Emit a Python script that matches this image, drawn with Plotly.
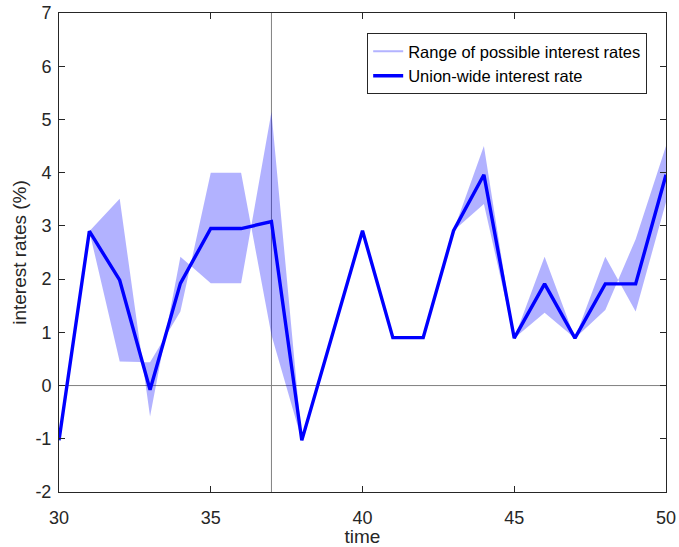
import plotly.graph_objects as go

# ---- data ----
time = list(range(30, 51))
union_rate = [-1.03, 2.90, 1.98, -0.08, 1.92, 2.95, 2.95, 3.08, -1.03, 0.94, 2.91,
              0.90, 0.90, 2.91, 3.96, 0.89, 1.91, 0.89, 1.91, 1.91, 3.96]
bound_a = [-1.03, 2.90, 3.51, -0.58, 2.42, 1.92, 1.92, 5.14, -1.03, 0.94, 2.91,
           0.90, 0.90, 2.91, 4.50, 0.89, 2.42, 0.89, 2.42, 1.39, 3.45]
bound_b = [-1.03, 2.90, 0.45, 0.44, 1.39, 4.00, 4.00, 0.95, -1.03, 0.94, 2.91,
           0.90, 0.90, 2.91, 3.41, 0.89, 1.37, 0.89, 1.42, 2.75, 4.50]
event_time = 37
x_ticks = [30, 35, 40, 45, 50]
y_ticks = list(range(-2, 8))

FONT = "Liberation Sans, Arial, Helvetica, sans-serif"
AX = "#262626"
BAND = "rgba(0,0,255,0.3)"

fig = go.Figure()

# band polygon (upper path then reversed lower path)
fig.add_trace(go.Scatter(
    x=time + time[::-1], y=bound_a + bound_b[::-1],
    mode="lines", fill="toself", fillcolor=BAND,
    line=dict(width=0, color=BAND), hoverinfo="skip", showlegend=False))
# legend proxy for the band
fig.add_trace(go.Scatter(
    x=[None], y=[None], mode="lines",
    line=dict(color="#b3b3ff", width=2),
    name="Range of possible interest rates"))
fig.add_trace(go.Scatter(
    x=time, y=union_rate, mode="lines",
    line=dict(color="#0000ff", width=3.4),
    name="Union-wide interest rate"))

fig.add_shape(type="line", xref="x", yref="paper", x0=event_time, x1=event_time,
              y0=0, y1=1, line=dict(color="#808080", width=1), layer="below")
fig.add_shape(type="line", xref="paper", yref="y", x0=0, x1=1, y0=0, y1=0,
              line=dict(color="#808080", width=1), layer="below")

axis_common = dict(
    showgrid=False, zeroline=False, showline=True, linecolor=AX, linewidth=1,
    mirror="ticks", ticks="inside", ticklen=6, tickcolor=AX, tickwidth=1,
    tickfont=dict(family=FONT, size=18, color=AX),
)
fig.update_xaxes(range=[30, 50], tickvals=x_ticks, ticktext=[str(v) for v in x_ticks],
                 ticklabelstandoff=9,
                 title=dict(text="time", font=dict(family=FONT, size=19, color=AX), standoff=10),
                 **axis_common)
fig.update_yaxes(range=[-2, 7], tickvals=y_ticks, ticktext=[str(v) for v in y_ticks],
                 ticklabelstandoff=3,
                 title=dict(text="interest rates (%)", font=dict(family=FONT, size=19, color=AX), standoff=3),
                 **axis_common)

fig.update_layout(
    width=679, height=547,
    margin=dict(l=59, r=13, t=13, b=55, autoexpand=False),
    paper_bgcolor="white", plot_bgcolor="white",
    font=dict(family=FONT, color=AX),
    legend=dict(x=0.969, y=0.958, xanchor="right", yanchor="top",
                bgcolor="white", bordercolor=AX, borderwidth=1,
                font=dict(family=FONT, size=16.5, color="#000000"),
                tracegroupgap=0, itemwidth=30, valign="middle"),
    showlegend=True,
)

fig.write_html("out.html")
